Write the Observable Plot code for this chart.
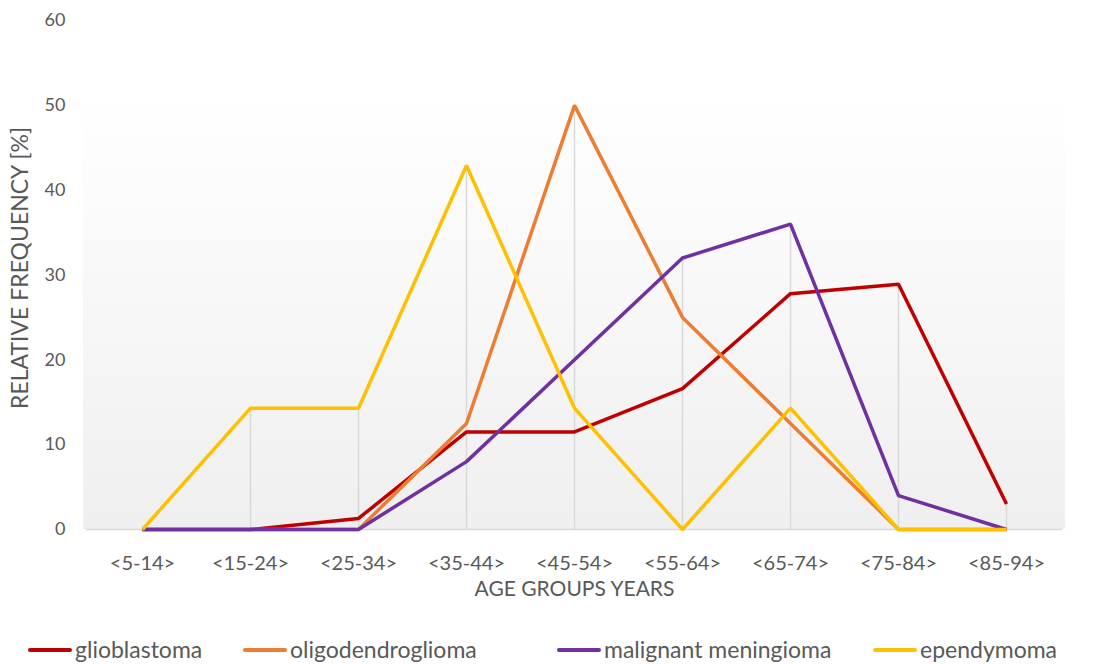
<!DOCTYPE html>
<html>
<head>
<meta charset="utf-8">
<script src="https://cdn.jsdelivr.net/npm/d3@7"></script>
<script src="https://cdn.jsdelivr.net/npm/@observablehq/plot@0.6"></script>
<style>
  body { margin: 0; background: #fff; font-family: Lato, "Open Sans", sans-serif; }
  #legend { position: relative; height: 44px; width: 1108px; color: #595959; font-size: 23px; }
  .item { position: absolute; top: 18px; display: flex; align-items: center; white-space: nowrap; line-height: 1; }
  .swatch { width: 44px; height: 4px; border-radius: 2px; margin-right: 3px; }
  #chart svg g[aria-label="x-axis tick label"] { font-size: 20px; }
  #chart svg g[aria-label="y-axis tick label"] { font-size: 18px; }
</style>
</head>
<body>
<div id="chart"></div>
<div id="legend"></div>
<script>
const ageGroups = ["<5-14>", "<15-24>", "<25-34>", "<35-44>", "<45-54>", "<55-64>", "<65-74>", "<75-84>", "<85-94>"];
const seriesNames = ["glioblastoma", "oligodendroglioma", "malignant meningioma", "ependymoma"];
const seriesColors = ["#c00000", "#ed7d31", "#7030a0", "#ffc000"];
const glioblastoma = [0, 0, 1.3, 11.5, 11.5, 16.6, 27.8, 28.9, 3];
const oligodendroglioma = [0, 0, 0, 12.5, 50, 25, 12.5, 0, 0];
const malignantMeningioma = [0, 0, 0, 8, 20, 32, 36, 4, 0];
const ependymoma = [0, 14.3, 14.3, 42.9, 14.3, 0, 14.3, 0, 0];
const yTicks = [0, 10, 20, 30, 40, 50, 60];

const allSeries = [glioblastoma, oligodendroglioma, malignantMeningioma, ependymoma];
const rows = [];
allSeries.forEach((vals, s) => vals.forEach((v, i) => rows.push({group: ageGroups[i], series: seriesNames[s], value: v})));
const drops = ageGroups.map((g, i) => ({group: g, max: d3.max(allSeries, s => s[i])}));

const background = (index, scales, values, dims) => {
  const ns = "http://www.w3.org/2000/svg";
  const g = document.createElementNS(ns, "g");
  const defs = document.createElementNS(ns, "defs");
  const grad = document.createElementNS(ns, "linearGradient");
  grad.setAttribute("id", "bggrad");
  grad.setAttribute("x1", "0"); grad.setAttribute("y1", "0");
  grad.setAttribute("x2", "0"); grad.setAttribute("y2", "1");
  [["0%", "#ffffff"], ["15%", "#ffffff"], ["100%", "#efefef"]].forEach(([o, c]) => {
    const st = document.createElementNS(ns, "stop");
    st.setAttribute("offset", o); st.setAttribute("stop-color", c);
    grad.appendChild(st);
  });
  defs.appendChild(grad);
  g.appendChild(defs);
  const r = document.createElementNS(ns, "rect");
  r.setAttribute("x", dims.marginLeft - 3);
  r.setAttribute("y", dims.marginTop);
  r.setAttribute("width", dims.width - dims.marginLeft - dims.marginRight + 6);
  r.setAttribute("height", dims.height - dims.marginTop - dims.marginBottom);
  r.setAttribute("fill", "url(#bggrad)");
  g.appendChild(r);
  return g;
};

const chart = Plot.plot({
  width: 1108,
  height: 620,
  marginTop: 20,
  marginBottom: 91,
  marginLeft: 86,
  marginRight: 46,
  style: {fontFamily: "Lato, 'Open Sans', sans-serif", fontSize: "18px", color: "#595959", background: "transparent"},
  x: {type: "point", domain: ageGroups, padding: 0.5, label: null},
  y: {domain: [0, 60], ticks: yTicks, label: null},
  color: {domain: seriesNames, range: seriesColors},
  marks: [
    background,
    Plot.ruleY([0], {stroke: "#d9d9d9", strokeWidth: 1.5}),
    Plot.ruleX(drops.filter(d => d.max > 0), {x: "group", y1: 0, y2: "max", stroke: "#d9d9d9", strokeWidth: 1.5}),
    Plot.line(rows, {x: "group", y: "value", z: "series", stroke: "series", strokeWidth: 3.5, strokeLinejoin: "miter", strokeLinecap: "butt"}),
    Plot.axisX({tickSize: 0, tickPadding: 26, fill: "#595959", label: null}),
    Plot.axisY({ticks: yTicks, tickSize: 0, tickPadding: 21, fill: "#595959", label: null}),
    Plot.text(["AGE GROUPS YEARS"], {frameAnchor: "bottom", dy: 66, fontSize: 21, fill: "#595959"}),
    Plot.text(["RELATIVE FREQUENCY [%]"], {frameAnchor: "left", textAnchor: "middle", dx: -66, dy: -7, rotate: -90, fontSize: 23, fill: "#595959"})
  ]
});
document.getElementById("chart").appendChild(chart);

const legendX = [28, 243, 557, 873];
const legend = document.getElementById("legend");
seriesNames.forEach((name, i) => {
  const item = document.createElement("div");
  item.className = "item";
  item.style.left = legendX[i] + "px";
  const sw = document.createElement("div");
  sw.className = "swatch";
  sw.style.background = seriesColors[i];
  const t = document.createElement("span");
  t.textContent = name;
  item.appendChild(sw); item.appendChild(t);
  legend.appendChild(item);
});
</script>
</body>
</html>
